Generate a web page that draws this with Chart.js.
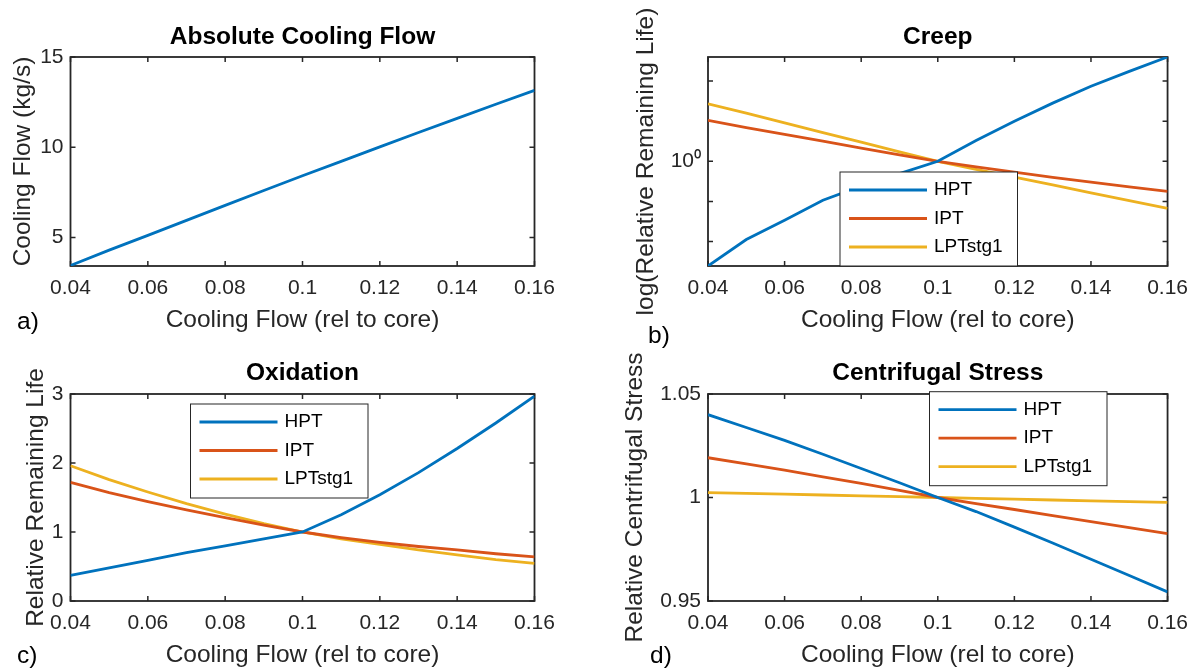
<!DOCTYPE html>
<html>
<head>
<meta charset="utf-8">
<script src="https://cdn.jsdelivr.net/npm/chart.js@4.4.0/dist/chart.umd.min.js"></script>
<style>
    html, body { margin: 0; padding: 0; background: #fff; }
    #fig { position: relative; width: 1198px; height: 671px; overflow: hidden; font-family: Arial, 'Liberation Sans', sans-serif; }
    #fig canvas { position: absolute; }
    .panel { position: absolute; font-size: 24.5px; line-height: 1; color: #000; }
</style>
</head>
<body>
<div id="fig">
    <canvas id="chartA" width="599" height="335" style="left:0;top:0"></canvas>
    <canvas id="chartB" width="599" height="335" style="left:599px;top:0"></canvas>
    <canvas id="chartC" width="599" height="336" style="left:0;top:335px"></canvas>
    <canvas id="chartD" width="599" height="336" style="left:599px;top:335px"></canvas>
    <div class="panel" style="left:17px;top:309px">a)</div>
    <div class="panel" style="left:648px;top:323px">b)</div>
    <div class="panel" style="left:17px;top:643px">c)</div>
    <div class="panel" style="left:650px;top:643px">d)</div>
</div>
<script>
// Data
const coolingFlow = [0.04, 0.05, 0.06, 0.07, 0.08, 0.09, 0.10, 0.11, 0.12, 0.13, 0.14, 0.15, 0.16];
const xTicks = [0.04, 0.06, 0.08, 0.10, 0.12, 0.14, 0.16];

const absCoolingFlow = [3.45, 4.3, 5.12, 5.95, 6.78, 7.6, 8.42, 9.22, 10.02, 10.82, 11.6, 12.38, 13.15];

const creepHPT = [0.00245, 0.0112, 0.0339, 0.107, 0.24, 0.49, 1, 3.31, 10, 28.2, 74, 174, 398];
const creepIPT = [10.5, 6.92, 4.68, 3.16, 2.14, 1.45, 1, 0.724, 0.537, 0.398, 0.302, 0.229, 0.178];
const creepLPT = [27.2, 15.8, 9.1, 5.2, 3.0, 1.72, 1, 0.63, 0.405, 0.257, 0.162, 0.104, 0.067];

const oxidHPT = [0.37, 0.48, 0.59, 0.70, 0.80, 0.90, 1.0, 1.25, 1.54, 1.86, 2.21, 2.58, 2.97];
const oxidIPT = [1.72, 1.57, 1.44, 1.32, 1.21, 1.10, 1.0, 0.92, 0.85, 0.79, 0.74, 0.685, 0.64];
const oxidLPT = [1.96, 1.76, 1.58, 1.41, 1.26, 1.12, 1.0, 0.90, 0.82, 0.74, 0.67, 0.60, 0.545];

const stressHPT = [1.040, 1.0338, 1.0276, 1.0209, 1.014, 1.0071, 1.0, 0.9932, 0.9857, 0.978, 0.9702, 0.9623, 0.9544];
const stressIPT = [1.0192, 1.0162, 1.0132, 1.0100, 1.0068, 1.0034, 1.0, 0.9970, 0.9942, 0.9912, 0.9883, 0.9854, 0.9826];
const stressLPT = [1.0024, 1.0020, 1.0016, 1.0012, 1.0008, 1.0004, 1.0, 0.9996, 0.9992, 0.9988, 0.9984, 0.9980, 0.9976];

const seriesNames = ['HPT', 'IPT', 'LPTstg1'];
const seriesColors = ['#0072BD', '#D95319', '#EDB120'];

const yTicksA = [5, 10, 15];
const yTicksB = [0.01, 0.1, 1, 10, 100];
const yTicksC = [0, 1, 2, 3];
const yTicksD = [0.95, 1, 1.05];

const FONT = "Arial, 'Liberation Sans', sans-serif";
const AXIS_COLOR = '#262626';
const TICK_LEN = 5;
const LINE_W = 2.8;

// MATLAB-like box with inward ticks
const boxPlugin = {
    id: 'matlabBox',
    beforeDatasetsDraw(chart) {
        const { ctx, chartArea: a, scales: { x, y } } = chart;
        ctx.save();
        ctx.strokeStyle = AXIS_COLOR;
        ctx.lineWidth = 1.8;
        ctx.strokeRect(a.left, a.top, a.right - a.left, a.bottom - a.top);
        ctx.lineWidth = 1.5;
        ctx.beginPath();
        x.ticks.forEach(t => {
            const px = x.getPixelForValue(t.value);
            ctx.moveTo(px, a.bottom); ctx.lineTo(px, a.bottom - TICK_LEN);
            ctx.moveTo(px, a.top); ctx.lineTo(px, a.top + TICK_LEN);
        });
        y.ticks.forEach(t => {
            const py = y.getPixelForValue(t.value);
            ctx.moveTo(a.left, py); ctx.lineTo(a.left + TICK_LEN, py);
            ctx.moveTo(a.right, py); ctx.lineTo(a.right - TICK_LEN, py);
        });
        ctx.stroke();
        ctx.restore();
    }
};

// Legend box drawn inside the axes
const boxLegendPlugin = {
    id: 'boxLegend',
    afterDatasetsDraw(chart, args, opts) {
        if (!opts || !opts.show) return;
        const { ctx, chartArea: a } = chart;
        const bx = a.left + opts.x, by = a.top + opts.y;
        const w = 177.5, h = 94;
        const rows = [18, 46.5, 75];
        ctx.save();
        ctx.fillStyle = '#fff';
        ctx.fillRect(bx, by, w, h);
        ctx.strokeStyle = AXIS_COLOR;
        ctx.lineWidth = 1;
        ctx.strokeRect(bx, by, w, h);
        chart.data.datasets.forEach((ds, i) => {
            const ry = by + rows[i];
            ctx.strokeStyle = ds.borderColor;
            ctx.lineWidth = LINE_W;
            ctx.beginPath();
            ctx.moveTo(bx + 9, ry);
            ctx.lineTo(bx + 87, ry);
            ctx.stroke();
            ctx.fillStyle = '#000';
            ctx.font = '19px ' + FONT;
            ctx.textAlign = 'left';
            ctx.textBaseline = 'middle';
            ctx.fillText(ds.label, bx + 94, ry);
        });
        ctx.restore();
    }
};

// Rotated y label (Chart.js squeezes long titles into the axis height)
const yLabelPlugin = {
    id: 'yLabel',
    afterDraw(chart, args, opts) {
        if (!opts || !opts.text) return;
        const { ctx, chartArea: a } = chart;
        ctx.save();
        ctx.translate(opts.x, (a.top + a.bottom) / 2);
        ctx.rotate(-Math.PI / 2);
        ctx.font = '24.5px ' + FONT;
        ctx.fillStyle = AXIS_COLOR;
        ctx.textAlign = 'center';
        ctx.textBaseline = 'middle';
        ctx.fillText(opts.text, 0, 0);
        ctx.restore();
    }
};

function makeChart(id, cfg) {
    const canvas = document.getElementById(id);
    const W = canvas.width, H = canvas.height;
    const datasets = cfg.series.map((s, i) => ({
        label: s.label,
        data: coolingFlow.map((x, k) => ({ x: x, y: s.data[k] })),
        borderColor: s.color,
        borderWidth: LINE_W,
        pointRadius: 0,
        fill: false,
        tension: 0
    }));
    return new Chart(canvas.getContext('2d'), {
        type: 'line',
        data: { datasets },
        plugins: [boxPlugin, boxLegendPlugin, yLabelPlugin],
        options: {
            responsive: false,
            animation: false,
            devicePixelRatio: 1,
            layout: { padding: { left: 0, top: 0, bottom: 0, right: W - cfg.right } },
            plugins: {
                legend: { display: false },
                tooltip: { enabled: false },
                title: {
                    display: true,
                    fullSize: false,
                    text: cfg.title,
                    color: '#000',
                    font: { family: FONT, size: 24.5, weight: 'bold', lineHeight: 1.2 },
                    padding: { top: cfg.titlePad[0], bottom: cfg.titlePad[1] }
                },
                boxLegend: cfg.legend ? { show: true, x: cfg.legend[0], y: cfg.legend[1] } : { show: false },
                yLabel: { text: cfg.yLabel, x: cfg.yLabelX }
            },
            scales: {
                x: {
                    type: 'linear',
                    min: 0.04,
                    max: 0.16,
                    afterBuildTicks: s => { s.ticks = xTicks.map(v => ({ value: v })); },
                    afterFit: s => { s.height = H - cfg.bottom; },
                    grid: { display: false, drawTicks: false },
                    border: { display: false },
                    ticks: {
                        color: AXIS_COLOR,
                        font: { family: FONT, size: 21 },
                        padding: 10,
                        maxRotation: 0,
                        autoSkip: false,
                        callback: v => String(+v.toFixed(2))
                    },
                    title: {
                        display: true,
                        text: 'Cooling Flow (rel to core)',
                        color: AXIS_COLOR,
                        font: { family: FONT, size: 24.5, lineHeight: 1.2 },
                        padding: { top: 0, bottom: cfg.xTitlePad }
                    }
                },
                y: {
                    type: cfg.yType || 'linear',
                    min: cfg.yMin,
                    max: cfg.yMax,
                    afterBuildTicks: s => { s.ticks = cfg.yTicks.map(v => ({ value: v })); },
                    afterFit: s => { s.width = cfg.left; },
                    grid: { display: false, drawTicks: false },
                    border: { display: false },
                    ticks: {
                        color: AXIS_COLOR,
                        font: { family: FONT, size: 21 },
                        padding: 7,
                        autoSkip: false,
                        callback: cfg.yFmt
                    }
                }
            }
        }
    });
}

const lifeSeries = (h, i, l) => [
    { label: seriesNames[0], data: h, color: seriesColors[0] },
    { label: seriesNames[1], data: i, color: seriesColors[1] },
    { label: seriesNames[2], data: l, color: seriesColors[2] }
];

makeChart('chartA', {
    title: 'Absolute Cooling Flow',
    titlePad: [22.3, 5.3],
    left: 70.5, right: 534.5, bottom: 266,
    xTitlePad: 0,
    yLabel: 'Cooling Flow (kg/s)', yLabelX: 23.2,
    yMin: 3.42, yMax: 15, yTicks: yTicksA,
    yFmt: v => String(v),
    series: [{ label: 'Cooling Flow', data: absCoolingFlow, color: seriesColors[0] }],
    legend: null
});

makeChart('chartB', {
    title: 'Creep',
    titlePad: [22.3, 5.3],
    left: 109, right: 570, bottom: 266,
    xTitlePad: 0,
    yLabel: 'log(Relative Remaining Life)', yLabelX: 47.5,
    yType: 'logarithmic',
    yMin: 0.00245, yMax: 398, yTicks: yTicksB,
    yFmt: v => (v === 1 ? '10\u2070' : ''),
    series: lifeSeries(creepHPT, creepIPT, creepLPT),
    legend: [132, 115]
});

makeChart('chartC', {
    title: 'Oxidation',
    titlePad: [23.5, 6.1],
    left: 70.5, right: 534.5, bottom: 266,
    xTitlePad: 1.3,
    yLabel: 'Relative Remaining Life', yLabelX: 36.5,
    yMin: 0, yMax: 3, yTicks: yTicksC,
    yFmt: v => String(v),
    series: lifeSeries(oxidHPT, oxidIPT, oxidLPT),
    legend: [120, 10]
});

makeChart('chartD', {
    title: 'Centrifugal Stress',
    titlePad: [23.5, 6.1],
    left: 109, right: 570, bottom: 266,
    xTitlePad: 1.3,
    yLabel: 'Relative Centrifugal Stress', yLabelX: 36,
    yMin: 0.95, yMax: 1.05, yTicks: yTicksD,
    yFmt: v => String(+v.toFixed(2)),
    series: [
        { label: seriesNames[0], data: stressHPT, color: seriesColors[0] },
        { label: seriesNames[1], data: stressIPT, color: seriesColors[1] },
        { label: seriesNames[2], data: stressLPT, color: seriesColors[2] }
    ],
    legend: [221.5, -2.3]
});
</script>
</body>
</html>
